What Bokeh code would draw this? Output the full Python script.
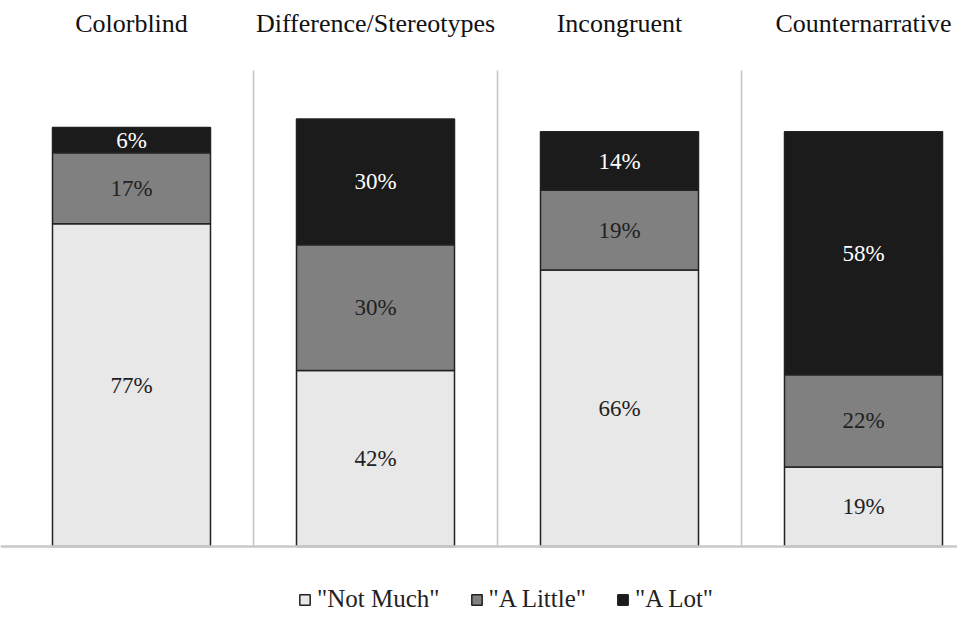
from bokeh.plotting import figure
from bokeh.models import Range1d, ColumnDataSource, Legend, LegendItem, Span
from bokeh.core.properties import value
from bokeh.embed import file_html
from bokeh.resources import INLINE

categories = ["Colorblind", "Difference/Stereotypes", "Incongruent", "Counternarrative"]
not_much = [77, 42, 66, 19]
a_little = [17, 30, 19, 22]
a_lot = [6, 30, 14, 58]
series_labels = ['"Not Much"', '"A Little"', '"A Lot"']
series_colors = ["#e8e8e8", "#808080", "#1b1b1b"]
label_colors = ["#222222", "#222222", "#ffffff"]

FONT = "'Liberation Serif', 'Times New Roman', Times, serif"
W, H = 957, 613
PX_PER_UNIT = 4.19  # px per percent
BASE_FROM_BOTTOM = H - 546

xs = [i + 0.5 for i in range(len(categories))]
p = figure(width=W, height=H, output_backend="svg", toolbar_location=None,
           x_range=Range1d(-9 / 244, (W - 9) / 244),
           y_range=Range1d(-BASE_FROM_BOTTOM / PX_PER_UNIT, (H - BASE_FROM_BOTTOM) / PX_PER_UNIT),
           min_border=0, min_border_left=0, min_border_right=0,
           min_border_top=0, min_border_bottom=0)
p.axis.visible = False
p.xgrid.visible = False
p.ygrid.visible = False
p.outline_line_color = None
p.background_fill_color = "white"
p.border_fill_color = "white"

# dividers between panels
div_top = (546 - 70) / PX_PER_UNIT
n = len(categories)
p.segment(x0=list(range(1, n)), x1=list(range(1, n)),
          y0=[0] * (n - 1), y1=[div_top] * (n - 1),
          line_color="#c4c4c4", line_width=1.5)

src = ColumnDataSource(dict(x=xs, not_much=not_much, a_little=a_little, a_lot=a_lot))
rends = p.vbar_stack(["not_much", "a_little", "a_lot"], x="x", width=158 / 244, source=src,
                     fill_color=series_colors, line_color="#222222", line_width=1.5)

baseline = Span(location=0, dimension="width", line_color="#c8c8c8", line_width=2.5)
p.add_layout(baseline)

# segment labels
lx, ly, lt, lc = [], [], [], []
for i in range(n):
    bottom = 0
    for vals, col in zip([not_much, a_little, a_lot], label_colors):
        v = vals[i]
        lx.append(xs[i])
        ly.append(bottom + v / 2)
        lt.append(f"{v}%")
        lc.append(col)
        bottom += v
p.text(x=lx, y=ly, text=lt, text_color=lc, text_font=value(FONT), text_font_size="23px",
       text_align="center", text_baseline="middle")

# panel titles
title_y = (546 - 23) / PX_PER_UNIT
p.text(x=xs, y=[title_y] * n, text=categories, text_color="#111111",
       text_font=value(FONT), text_font_size="26px", text_align="center",
       text_baseline="middle")

legend = Legend(items=[LegendItem(label=lab, renderers=[r]) for lab, r in zip(series_labels, rends)],
                orientation="horizontal", location=(298, 0), margin=0, padding=0,
                border_line_color=None, background_fill_alpha=0,
                label_text_font=FONT, label_text_font_size="25px", label_text_color="#222222",
                glyph_width=13, glyph_height=13, label_standoff=6, spacing=30)
p.add_layout(legend, "center")

open("out.html", "w").write(file_html(p, INLINE))
